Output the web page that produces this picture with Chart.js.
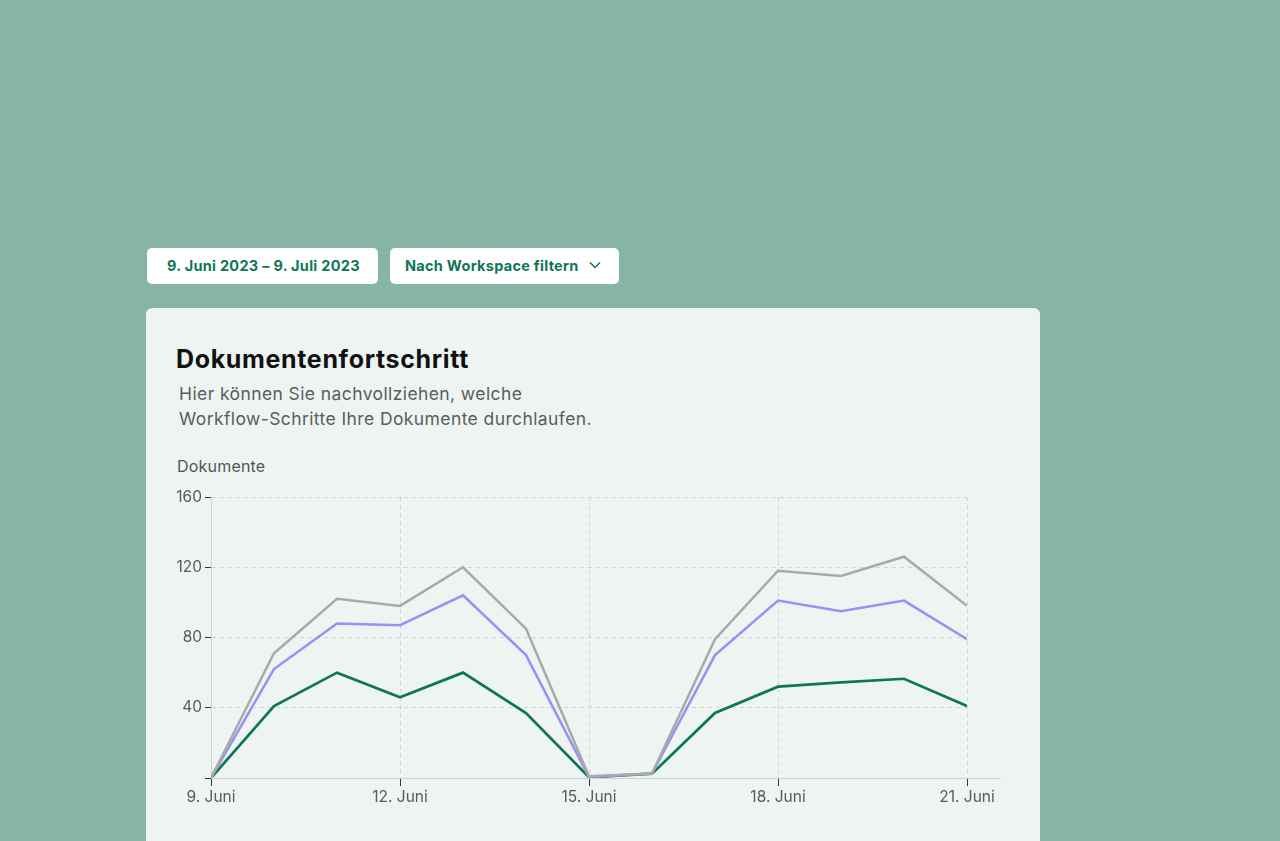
<!DOCTYPE html>
<html lang="de">
<head>
<meta charset="utf-8">
<title>Dokumentenfortschritt</title>
<script src="https://cdn.jsdelivr.net/npm/chart.js@4.4.0/dist/chart.umd.min.js"></script>
<style>
  html, body { margin: 0; padding: 0; }
  body {
    width: 1280px; height: 841px; overflow: hidden; position: relative;
    background: #86b5a5;
    font-family: Inter, "Noto Sans", sans-serif;
  }
  .btn {
    position: absolute; top: 248px; height: 36px; background: #fff;
    border-radius: 5px; color: #0f7555; font-weight: 700; font-size: 14.5px;
    line-height: 36px; box-sizing: border-box; padding-left: 20px; letter-spacing: 0.28px;
  }
  .btn svg { position: absolute; right: 18px; top: 13px; }
  .card {
    position: absolute; left: 146px; top: 308px; width: 894px; height: 600px;
    background: #eef4f1; border-radius: 6px;
  }
  h1 {
    position: absolute; left: 176px; top: 344px; margin: 0;
    font-size: 25px; font-weight: 700; color: #111; letter-spacing: 0.65px;
  }
  .sub {
    position: absolute; left: 179px; top: 381px; margin: 0;
    font-size: 17.5px; line-height: 25px; color: #5c5c5c; letter-spacing: 0.4px;
  }
  .ytitle {
    position: absolute; left: 177px; top: 456px; font-size: 16px; color: #555; letter-spacing: 0.2px;
  }
  #wrap { position: absolute; left: 146px; top: 480px; width: 894px; height: 338px; }
</style>
</head>
<body>
<div class="btn" style="left:147px;width:231px;">9. Juni 2023 – 9. Juli 2023</div>
<div class="btn" style="left:390px;width:229px;padding-left:15px;">Nach Workspace filtern
  <svg width="12" height="8" viewBox="0 0 12 8"><path d="M1 1.5 L6 6.5 L11 1.5" fill="none" stroke="#0f7555" stroke-width="1.5"/></svg>
</div>
<div class="card"></div>
<h1>Dokumentenfortschritt</h1>
<p class="sub">Hier können Sie nachvollziehen, welche<br>Workflow-Schritte Ihre Dokumente durchlaufen.</p>
<div class="ytitle">Dokumente</div>
<div id="wrap"><canvas id="chart"></canvas></div>
<script>
// Tage im Juni (x-Achse)
const days = [9, 10, 11, 12, 13, 14, 15, 16, 17, 18, 19, 20, 21];
const yTicks = [0, 40, 80, 120, 160];

// Werte je Reihe
const grayValues   = [0, 71, 102, 98, 120, 85, 1, 2.5, 79, 118, 115, 126, 98];
const purpleValues = [0, 62, 88, 87, 104, 70, 0.5, 2.5, 70, 101, 95, 101, 79];
const greenValues  = [0, 41, 60, 46, 60, 37, 0.4, 2.5, 37, 52, 54.5, 56.5, 41];

function toPoints(values) {
  return values.map((v, i) => ({ x: days[i], y: v }));
}

// x-Achsenlinie etwas über die Zeichenfläche hinaus verlängern
const axisExtension = {
  id: 'axisExtension',
  afterDraw(chart) {
    const { ctx, chartArea } = chart;
    ctx.save();
    ctx.strokeStyle = '#cdd3d0';
    ctx.lineWidth = 1;
    ctx.beginPath();
    ctx.moveTo(chartArea.right, chartArea.bottom + 0.5);
    ctx.lineTo(chartArea.right + 34, chartArea.bottom + 0.5);
    ctx.stroke();
    ctx.restore();
  }
};

const lineStyle = { borderWidth: 2.5, pointRadius: 0, tension: 0, fill: false };

new Chart(document.getElementById('chart'), {
  type: 'line',
  data: {
    datasets: [
      { ...lineStyle, label: 'Gesamt', data: toPoints(grayValues), borderColor: '#a7aaa8' },
      { ...lineStyle, label: 'In Bearbeitung', data: toPoints(purpleValues), borderColor: '#9d8ef5' },
      { ...lineStyle, label: 'Abgeschlossen', data: toPoints(greenValues), borderColor: '#0d7656', borderWidth: 2.7 }
    ]
  },
  plugins: [axisExtension],
  options: {
    responsive: true,
    maintainAspectRatio: false,
    animation: false,
    layout: { padding: { top: 17, right: 73, left: 0, bottom: 0 } },
    plugins: { legend: { display: false }, tooltip: { enabled: false } },
    scales: {
      x: {
        type: 'linear',
        min: days[0],
        max: days[days.length - 1],
        afterBuildTicks: (scale) => { scale.ticks = days.filter(d => (d - days[0]) % 3 === 0).map(v => ({ value: v })); },
        afterFit: (scale) => { scale.height = 40; },
        ticks: {
          callback: (v) => v + '. Juni',
          color: '#5a5a5a',
          font: { family: 'Inter', size: 15.5 },
          padding: 2,
          maxRotation: 0
        },
        grid: { color: '#d0d6d3', tickColor: '#333', tickLength: 8, lineWidth: 1 },
        border: { color: '#cdd3d0', dash: [4, 4] }
      },
      y: {
        min: 0,
        max: 160,
        afterBuildTicks: (scale) => { scale.ticks = yTicks.map(v => ({ value: v })); },
        afterFit: (scale) => { scale.width = 65; },
        ticks: {
          callback: (v) => (v === 0 ? '' : v),
          color: '#5a5a5a',
          font: { family: 'Inter', size: 15.5 },
          padding: 3
        },
        grid: { color: '#d0d6d3', tickColor: '#333', tickLength: 6, lineWidth: 1 },
        border: { color: '#cdd3d0', dash: [4, 4] }
      }
    }
  }
});
</script>
</body>
</html>
